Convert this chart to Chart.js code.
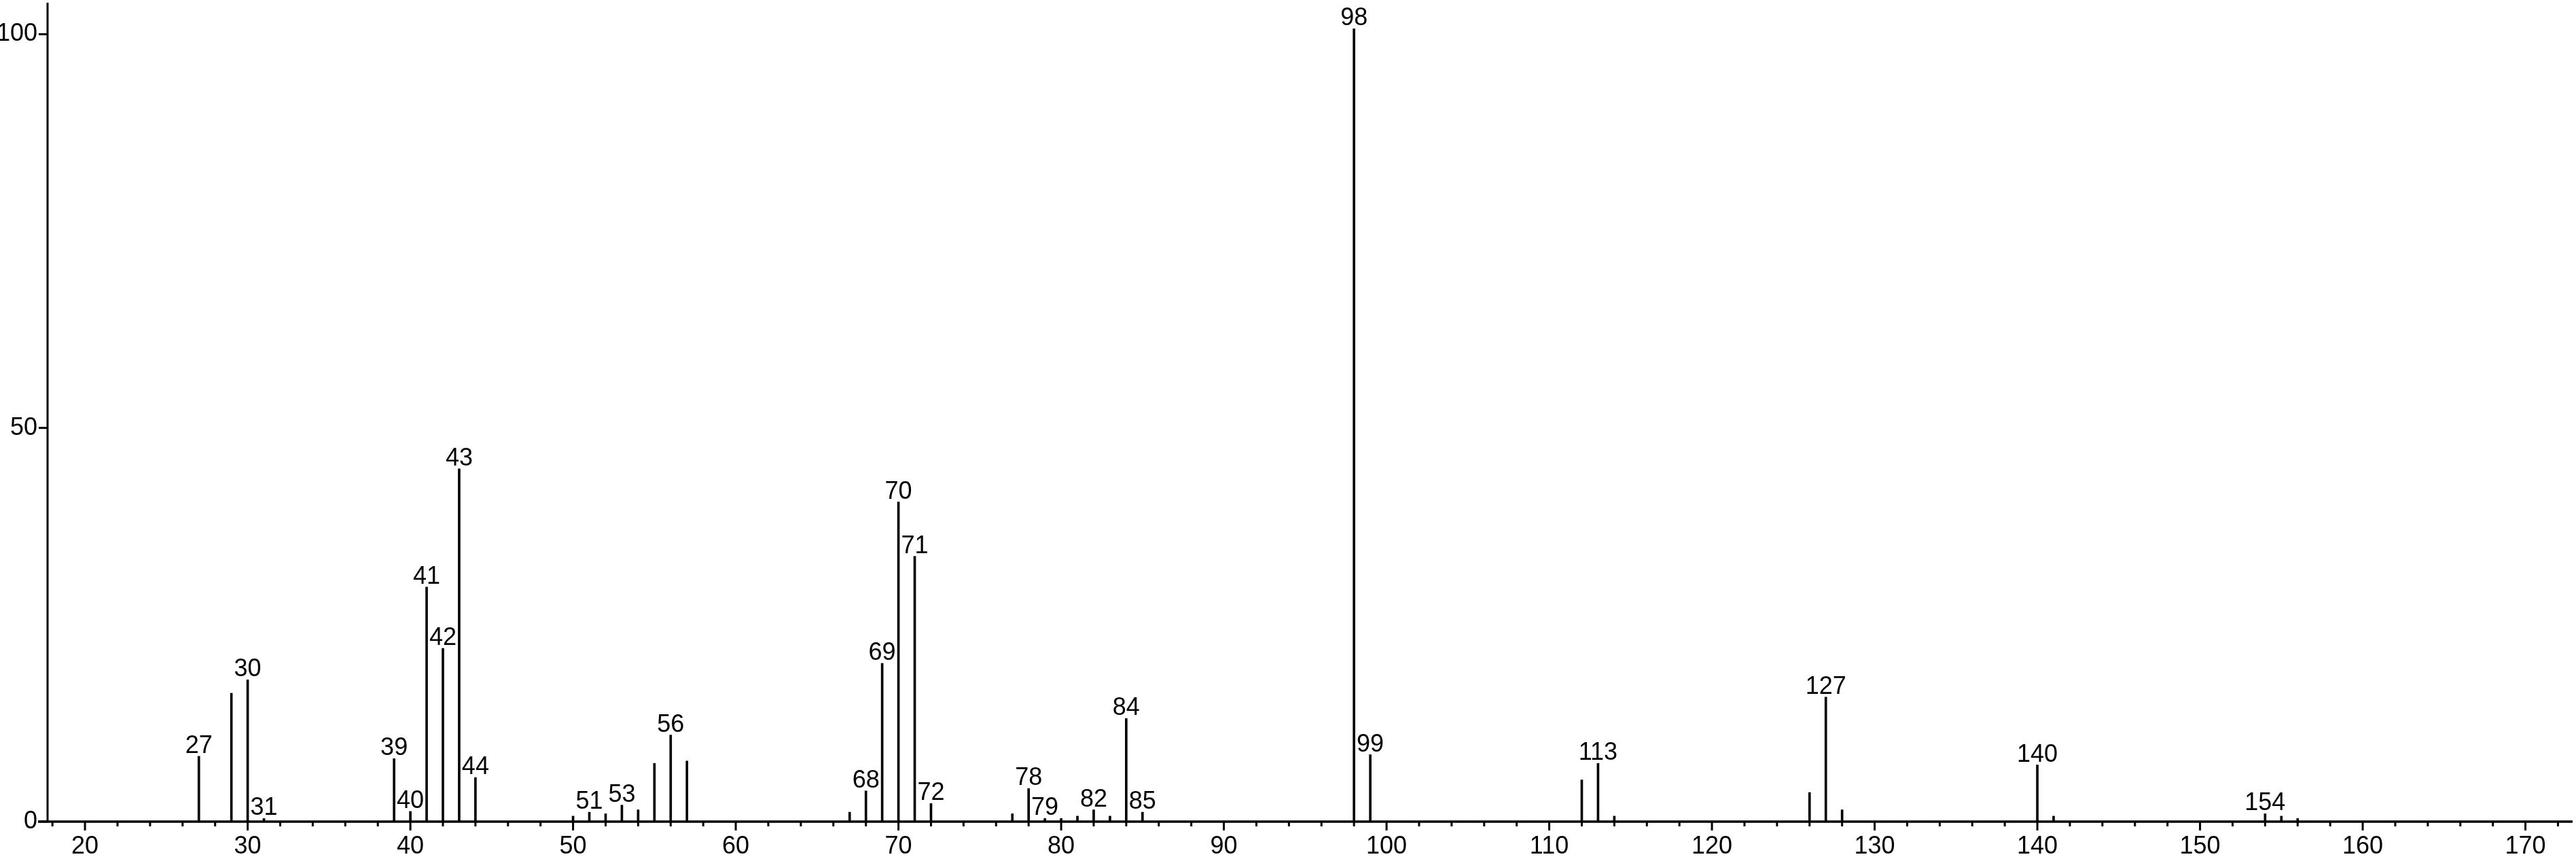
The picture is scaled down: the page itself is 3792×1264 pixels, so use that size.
<!DOCTYPE html>
<html>
<head>
<meta charset="utf-8">
<script src="https://cdn.jsdelivr.net/npm/chart.js@4.4.1/dist/chart.umd.min.js"></script>
<style>
    html, body { margin: 0; padding: 0; background: #fff; }
    #wrap { width: 3792px; height: 1264px; }
</style>
</head>
<body>
<div id="wrap"><canvas id="spectrum" width="3792" height="1264"></canvas></div>
<script>
// m/z values and relative intensities
const mz = [27, 29, 30, 31, 39, 40, 41, 42, 43, 44,
    50, 51, 52, 53, 54, 55, 56, 57,
    67, 68, 69, 70, 71, 72,
    77, 78, 79, 80, 81, 82, 83, 84, 85,
    98, 99, 112, 113, 114, 126, 127, 128, 140, 141, 154, 155, 156];
const intensity = [8.3, 16.3, 18.0, 0.4, 8.0, 1.3, 29.8, 22.0, 44.8, 5.6,
    0.7, 1.2, 1.0, 2.1, 1.5, 7.4, 11.0, 7.7,
    1.2, 3.9, 20.1, 40.6, 33.7, 2.3,
    1.0, 4.2, 0.4, 0.4, 0.7, 1.5, 0.7, 13.1, 1.2,
    100.7, 8.5, 5.3, 7.4, 0.7, 3.7, 15.8, 1.5, 7.2, 0.7, 1.0, 0.7, 0.4];
// peaks that carry a number above them
const labeledMz = [27, 30, 31, 39, 40, 41, 42, 43, 44, 51, 53, 56, 68, 69, 70, 71, 72,
    78, 79, 82, 84, 85, 98, 99, 113, 127, 140, 154];

const xTickLabels = [20, 30, 40, 50, 60, 70, 80, 90, 100, 110, 120, 130, 140, 150, 160, 170];
const yTickLabels = [0, 50, 100];

const FONT = 'Liberation Sans, Arial, Helvetica, sans-serif';

// axes lines, tick marks and peak labels
const spectrumDecor = {
    id: 'spectrumDecor',
    afterDraw(chart) {
        const { ctx, chartArea } = chart;
        const xs = chart.scales.x;
        const ys = chart.scales.y;
        const base = ys.getPixelForValue(0);
        ctx.save();
        ctx.strokeStyle = '#000';
        ctx.lineCap = 'butt';

        // x axis
        ctx.lineWidth = 3.5;
        ctx.beginPath();
        ctx.moveTo(chartArea.left - 14, base);
        ctx.lineTo(chartArea.right, base);
        ctx.stroke();

        // y axis
        ctx.lineWidth = 3;
        ctx.beginPath();
        ctx.moveTo(chartArea.left, chartArea.top);
        ctx.lineTo(chartArea.left, base);
        ctx.stroke();

        // minor x ticks every 2
        ctx.lineWidth = 3;
        for (let v = 18; v <= 172; v += 2) {
            if (xTickLabels.includes(v)) continue;
            const px = xs.getPixelForValue(v);
            ctx.beginPath();
            ctx.moveTo(px, base);
            ctx.lineTo(px, base + 7);
            ctx.stroke();
        }
        // major x ticks
        xTickLabels.forEach(v => {
            const px = xs.getPixelForValue(v);
            ctx.beginPath();
            ctx.moveTo(px, base);
            ctx.lineTo(px, base + 13);
            ctx.stroke();
        });
        // y ticks
        yTickLabels.forEach(v => {
            const py = ys.getPixelForValue(v);
            ctx.beginPath();
            ctx.moveTo(chartArea.left - 13, py);
            ctx.lineTo(chartArea.left, py);
            ctx.stroke();
        });

        // peak labels
        const meta = chart.getDatasetMeta(0);
        ctx.fillStyle = '#000';
        ctx.font = '36px ' + FONT;
        ctx.textAlign = 'center';
        ctx.textBaseline = 'alphabetic';
        meta.data.forEach((bar, i) => {
            if (!labeledMz.includes(mz[i])) return;
            ctx.fillText(String(mz[i]), bar.x, bar.y - 5);
        });
        ctx.restore();
    }
};

new Chart(document.getElementById('spectrum'), {
    type: 'bar',
    data: {
        datasets: [{
            data: mz.map((m, i) => ({ x: m, y: intensity[i] })),
            backgroundColor: '#000',
            borderWidth: 0,
            barThickness: 3,
            grouped: false
        }]
    },
    options: {
        responsive: false,
        animation: false,
        devicePixelRatio: 1,
        layout: { padding: { left: 0, right: 5, top: 4, bottom: 0 } },
        plugins: {
            legend: { display: false },
            tooltip: { enabled: false }
        },
        scales: {
            x: {
                type: 'linear',
                offset: false,
                min: 17.7,
                max: 172.9,
                grid: { display: false, drawTicks: false, offset: false },
                border: { display: false },
                afterBuildTicks: s => { s.ticks = xTickLabels.map(v => ({ value: v })); },
                afterFit: s => { s.height = 55; s.paddingLeft = 0; s.paddingRight = 0; },
                ticks: {
                    padding: 15,
                    maxRotation: 0,
                    autoSkip: false,
                    color: '#000',
                    font: { family: FONT, size: 36 }
                }
            },
            y: {
                min: 0,
                max: 104,
                grid: { display: false, drawTicks: false },
                border: { display: false },
                afterBuildTicks: s => { s.ticks = yTickLabels.map(v => ({ value: v })); },
                afterFit: s => { s.width = 70; s.paddingTop = 0; s.paddingBottom = 0; },
                ticks: {
                    padding: 15,
                    color: '#000',
                    font: { family: FONT, size: 36 }
                }
            }
        }
    },
    plugins: [spectrumDecor]
});
</script>
</body>
</html>
